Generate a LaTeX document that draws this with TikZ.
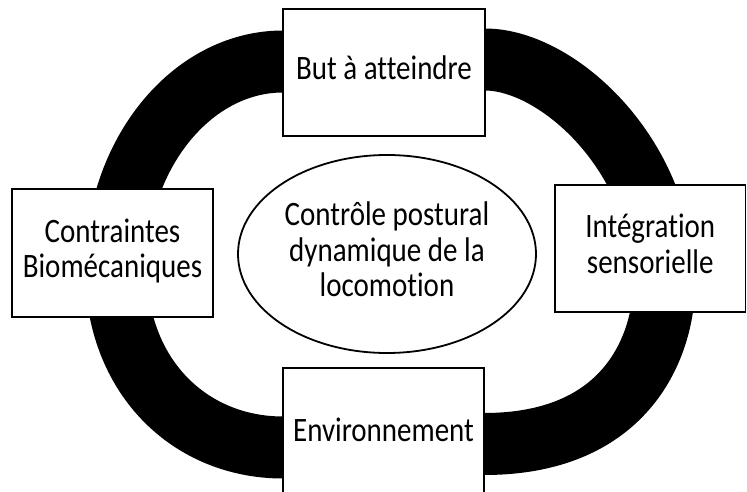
\documentclass[tikz,border=0pt]{standalone}
\usepackage{graphicx}
\usepackage{fontspec}
\setmainfont{Carlito}[Ligatures=NoCommon]
\usetikzlibrary{shapes.geometric}
\newcommand{\talltext}[1]{\scalebox{1}[1.18]{\begin{tabular}{@{}c@{}}#1\end{tabular}}}
\begin{document}
\begin{tikzpicture}[x=1pt,y=-1pt,
  txt/.style={font=\fontsize{29}{29.7}\selectfont},
  box/.style={txt, draw=black, line width=1.6pt, fill=white, rectangle, inner sep=0pt},
  hub/.style={txt, draw=black, line width=1.8pt, fill=white, ellipse, inner sep=0pt, minimum width=298pt, minimum height=198pt},
  ring/.style={line width=62pt, draw=black, line join=round}]
\useasboundingbox (0,0) rectangle (747,492);
\draw[ring] (283,61.5) -- (485,59.5)
  .. controls (558,59.5) and (664,156) .. (664,285)
  .. controls (664,334) and (636,444) .. (484,444)
  -- (283,447.5)
  .. controls (191,447.5) and (116,378) .. (116,268)
  .. controls (116,155) and (191,61.5) .. (283,61.5) -- cycle;
\node[box, minimum width=202pt, minimum height=127pt] (but) at (384,72.5) {\talltext{But à atteindre}};
\node[box, minimum width=201pt, minimum height=128pt] (contr) at (112.5,253) {\talltext{Contraintes\\Biomécaniques}};
\node[box, minimum width=190.5pt, minimum height=127pt] (integ) at (650.25,248.5) {\talltext{Intégration\\sensorielle}};
\node[box, minimum width=201pt, minimum height=132pt] (env) at (383.5,434) {\talltext{Environnement}};
\node[hub] (ctrl) at (387,254) {\talltext{Contrôle postural\\dynamique de la\\locomotion}};
\end{tikzpicture}
\end{document}
